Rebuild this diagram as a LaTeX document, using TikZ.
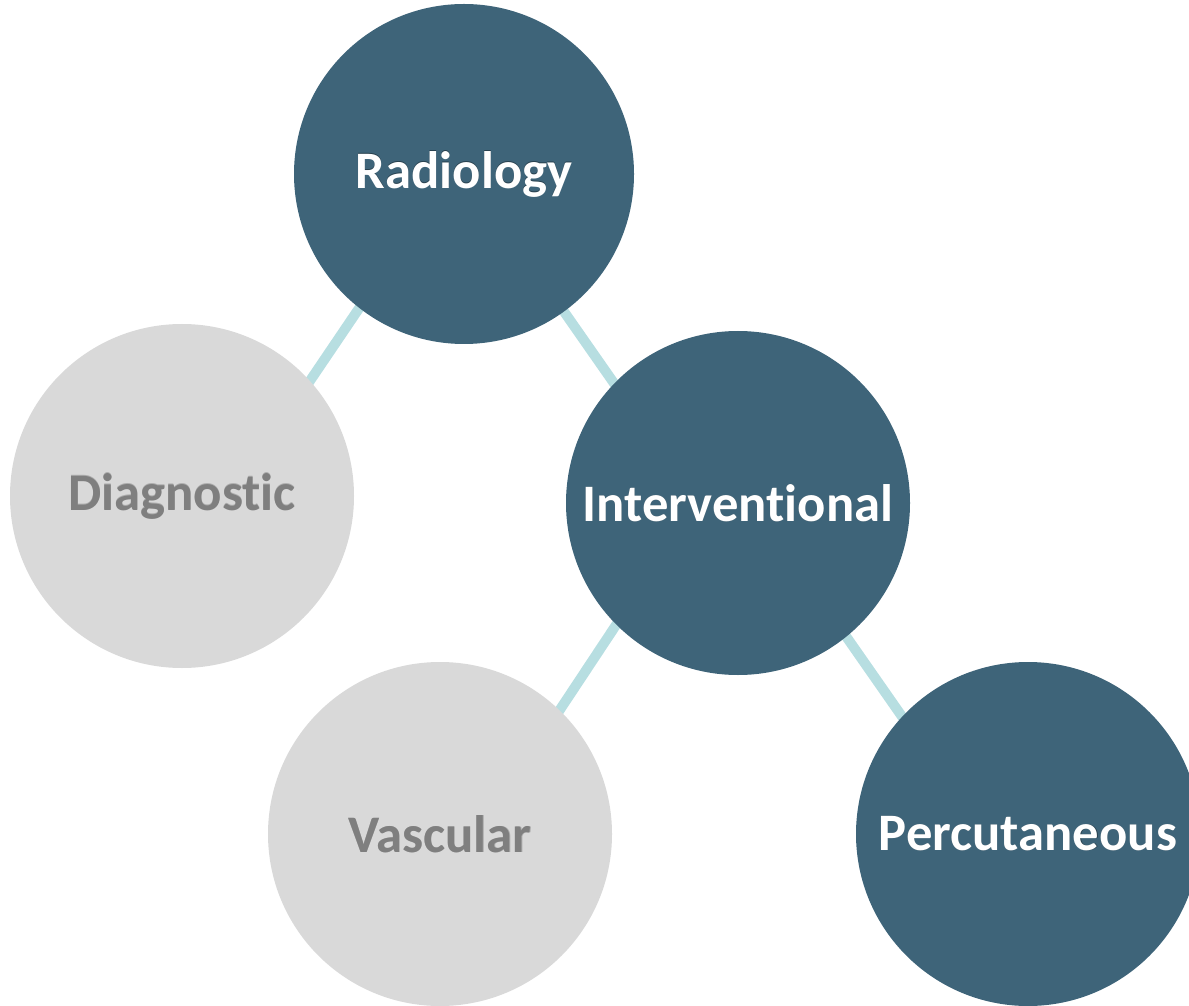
\documentclass[tikz,border=0pt]{standalone}
\usepackage{fontspec}
\setmainfont{Carlito}[Ligatures=NoCommon]
\usepackage{tikz}
\usetikzlibrary{positioning,backgrounds}
\definecolor{darkteal}{HTML}{3E6479}
\definecolor{lightgrey}{HTML}{D9D9D9}
\definecolor{linkblue}{HTML}{B7DEE1}
\definecolor{textgrey}{HTML}{7F7F7F}
\tikzset{topic node/.style={circle, minimum size=344*0.02cm, inner sep=0pt}}
\tikzset{dark node/.style={topic node, fill=darkteal}}
\tikzset{light node/.style={topic node, fill=lightgrey}}
\tikzset{link edge/.style={draw=linkblue, line width=10*0.02cm, shorten <=-0.2cm, shorten >=-0.2cm}}
\tikzset{label text/.style={font=\fontsize{30}{36}\selectfont\bfseries}}
\newcommand{\shadowtext}[3]{%
  \node [label text, text=black, opacity=#3] at ([shift={(0.06,-0.06)}]#1) {#2};}

\begin{document}
\begin{tikzpicture}
  [x=0.02cm, y=-0.02cm]
  \useasboundingbox (0,0) rectangle (1189,1006);
  \clip (0,0) rectangle (1189,1006);
  \begin{scope}
    \node [dark node, minimum size=340*0.02cm] (radiology)      at ( 464, 174) {};
    \node [light node]                         (diagnostic)     at ( 182, 496) {};
    \node [dark node]                          (interventional) at ( 738, 503) {};
    \node [light node]                         (vascular)       at ( 440, 834) {};
    \node [dark node]                          (percutaneous)   at (1028, 834) {};
  \end{scope}

  \begin{scope}[on background layer]
    \draw [link edge] (radiology.232)      -- (diagnostic.42);
    \draw [link edge] (radiology.306)      -- (interventional.136);
    \draw [link edge] (interventional.225) -- (vascular.46);
    \draw [link edge] (interventional.309) -- (percutaneous.137);
  \end{scope}

  % labels with soft shadow
  \shadowtext{radiology}{Radiology}{0.35}
  \shadowtext{diagnostic}{Diagnostic}{0.2}
  \shadowtext{interventional}{Interventional}{0.35}
  \shadowtext{vascular}{Vascular}{0.2}
  \shadowtext{percutaneous}{Percutaneous}{0.35}
  \node [label text, text=white]    (radiologylabel)      at (radiology)      {Radiology};
  \node [label text, text=textgrey] (diagnosticlabel)     at (diagnostic)     {Diagnostic};
  \node [label text, text=white]    (interventionallabel) at (interventional) {Interventional};
  \node [label text, text=textgrey] (vascularlabel)       at (vascular)       {Vascular};
  \node [label text, text=white]    (percutaneouslabel)   at (percutaneous)   {Percutaneous};
\end{tikzpicture}
\end{document}
